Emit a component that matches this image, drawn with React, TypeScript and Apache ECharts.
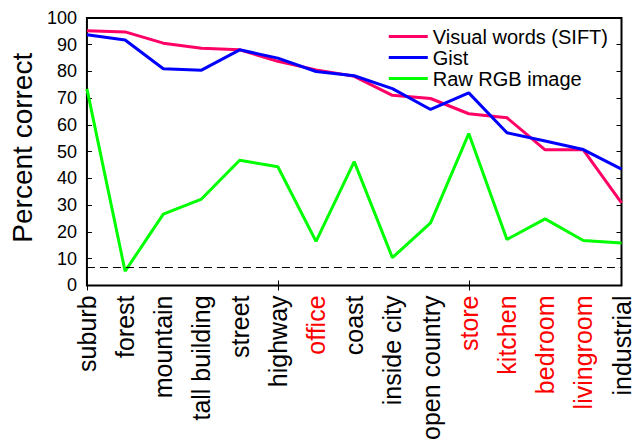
import React, { useEffect, useRef } from "react";
import * as echarts from "echarts";

const categories = [
  "suburb", "forest", "mountain", "tall building", "street", "highway", "office",
  "coast", "inside city", "open country", "store", "kitchen", "bedroom", "livingroom", "industrial",
];
const redCategories = ["office", "store", "kitchen", "bedroom", "livingroom"];
const siftValues = [95.2, 94.8, 90.6, 88.7, 88.1, 83.8, 80.6, 78.2, 71.1, 69.9, 64.2, 62.7, 50.7, 50.7, 30.9];
const gistValues = [93.7, 91.8, 81.0, 80.5, 88.1, 85.0, 80.0, 78.4, 73.6, 65.8, 72.0, 57.1, 54.0, 50.8, 43.5];
const rgbValues = [73.5, 5.3, 26.7, 32.3, 46.8, 44.4, 16.5, 46.3, 10.4, 23.4, 56.8, 17.2, 24.9, 16.8, 15.9];
const chanceLevel = 6.67;
const seriesNames = ["Visual words (SIFT)", "Gist", "Raw RGB image"];

export default function App() {
  const ref = useRef<HTMLDivElement>(null);
  useEffect(() => {
    document.body.style.margin = "0";
    const chart = echarts.init(ref.current!, null, { renderer: "svg" });
    const font = "Liberation Sans, Arial, Helvetica, sans-serif";
    const tickEvery5 = (i: number) => i % 5 === 0;
    chart.setOption({
      animation: false,
      textStyle: { fontFamily: font },
      grid: {
        left: 78, right: 12, top: 18, bottom: 156,
        show: true, borderColor: "#000", borderWidth: 2, backgroundColor: "transparent",
      },
      legend: {
        orient: "vertical",
        right: 26,
        top: 26,
        padding: 0,
        itemGap: 0,
        itemWidth: 39,
        itemHeight: 3,
        icon: "rect",
        textStyle: { fontSize: 20, color: "#000", fontFamily: font, lineHeight: 21 },
        data: seriesNames,
      },
      xAxis: [
        {
          type: "category",
          data: categories,
          boundaryGap: false,
          axisLine: { show: false },
          axisTick: { show: true, inside: true, length: 5, interval: tickEvery5, lineStyle: { color: "#000" } },
          axisLabel: {
            interval: 0,
            rotate: 90,
            fontSize: 25,
            margin: 10,
            fontFamily: font,
            color: (v: string) => (redCategories.includes(v) ? "#ff0000" : "#000"),
          },
          splitLine: { show: false },
        },
        {
          type: "category",
          position: "top",
          data: categories,
          boundaryGap: false,
          axisLine: { show: false },
          axisTick: { show: true, inside: true, length: 5, interval: tickEvery5, lineStyle: { color: "#000" } },
          axisLabel: { show: false },
          splitLine: { show: false },
        },
      ],
      yAxis: [
        {
          type: "value",
          min: 0, max: 100, interval: 10,
          axisLine: { show: false },
          axisTick: { show: true, inside: true, length: 5, lineStyle: { color: "#000" } },
          axisLabel: { fontSize: 18, color: "#000", margin: 10, fontFamily: font },
          splitLine: { show: false },
          name: "Percent correct",
          nameLocation: "middle",
          nameRotate: 90,
          nameGap: 44,
          nameTextStyle: { fontSize: 28, color: "#000", fontFamily: font, padding: [0, 0, 0, 8] },
        },
        {
          type: "value",
          position: "right",
          min: 0, max: 100, interval: 10,
          axisLine: { show: false },
          axisTick: { show: true, inside: true, length: 5, lineStyle: { color: "#000" } },
          axisLabel: { show: false },
          splitLine: { show: false },
        },
      ],
      series: [
        {
          name: seriesNames[0], type: "line", data: siftValues, symbol: "none",
          lineStyle: { color: "#ff0066", width: 3 }, itemStyle: { color: "#ff0066" }, z: 3,
        },
        {
          name: seriesNames[1], type: "line", data: gistValues, symbol: "none",
          lineStyle: { color: "#0000ff", width: 3 }, itemStyle: { color: "#0000ff" }, z: 4,
        },
        {
          name: seriesNames[2], type: "line", data: rgbValues, symbol: "none",
          lineStyle: { color: "#00ff00", width: 3 }, itemStyle: { color: "#00ff00" }, z: 2,
          markLine: {
            silent: true,
            symbol: "none",
            label: { show: false },
            lineStyle: { color: "#000", width: 1, type: [8, 5] },
            data: [{ yAxis: chanceLevel }],
          },
        },
      ],
    });
    return () => chart.dispose();
  }, []);
  return <div ref={ref} style={{ width: 634, height: 443 }} />;
}
